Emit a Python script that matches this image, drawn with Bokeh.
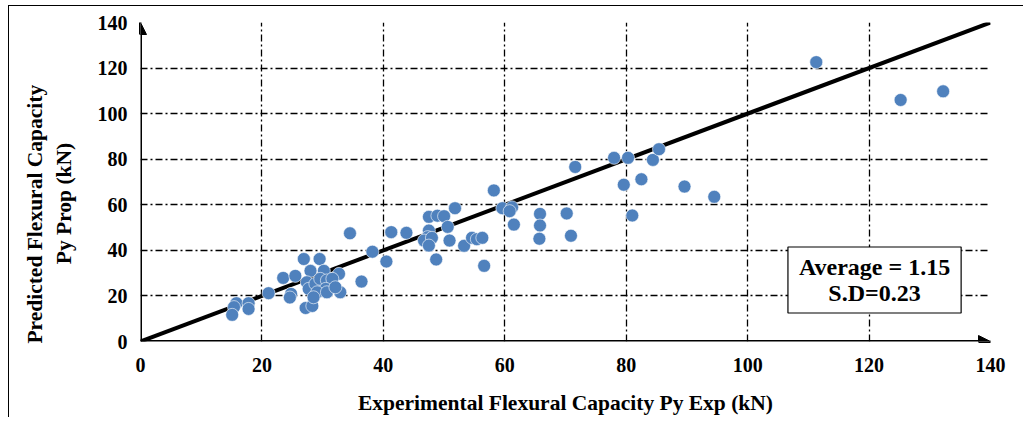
from bokeh.plotting import figure
from bokeh.models import Range1d, Label, Arrow, NormalHead, FixedTicker
from bokeh.embed import file_html
from bokeh.resources import INLINE

exp_vals = [111.3, 125.2, 132.2, 71.6, 78.0, 80.3, 84.4, 85.4, 79.6, 82.5, 89.6, 94.5, 81.0,
            70.2, 70.9, 58.2, 59.6, 61.2, 60.8, 61.5, 65.8, 65.8, 65.7, 38.2, 40.5, 41.3, 43.8,
            47.5, 48.9, 50.0, 51.8, 50.6, 47.5, 47.3, 46.7, 48.0, 47.5, 50.9, 48.7, 53.3, 54.6,
            55.4, 56.3, 56.6, 34.5, 36.4, 26.9, 29.5, 23.5, 25.5, 28.0, 30.2, 32.7, 21.1, 24.8,
            24.6, 32.9, 27.2, 28.3, 15.8, 17.8, 15.4, 17.8, 15.1, 27.4, 27.7, 28.8, 29.6, 30.7,
            31.6, 30.5, 29.1, 30.7, 32.1, 28.5]
pred_vals = [122.6, 106.0, 109.8, 76.6, 80.6, 80.6, 79.7, 84.4, 68.8, 71.2, 68.0, 63.5, 55.3,
             56.2, 46.4, 66.3, 58.5, 58.9, 57.2, 51.3, 56.0, 50.9, 45.1, 39.4, 35.1, 48.0, 47.7,
             54.7, 55.2, 55.0, 58.5, 50.3, 48.7, 45.8, 44.3, 45.5, 42.1, 44.3, 36.0, 42.0, 45.5,
             44.9, 45.5, 33.2, 47.5, 26.3, 36.2, 36.2, 27.9, 28.8, 31.0, 31.0, 29.7, 21.2, 20.9,
             19.3, 21.6, 14.7, 15.6, 16.8, 16.8, 15.1, 14.3, 11.7, 26.0, 23.1, 25.3, 27.5, 26.8,
             27.5, 23.1, 21.6, 21.6, 23.8, 19.4]
ticks = [0, 20, 40, 60, 80, 100, 120, 140]
line_x = [0, 140]
line_y = [0, 140]
stats_text = "Average = 1.15\nS.D=0.23"
x_title = "Experimental Flexural Capacity Py Exp (kN)"
y_title_1 = "Predicted Flexural Capacity"
y_title_2 = "Py Prop (kN)"

FONT = "Liberation Serif"
NBSP = "\u00a0"

p = figure(width=1015, height=412, output_backend="svg", toolbar_location=None,
           x_range=Range1d(0, 140), y_range=Range1d(0, 140),
           min_border_left=131, min_border_top=16, min_border_right=34, min_border_bottom=77)
p.styles = {"margin-left": "8px", "margin-top": "5px",
            "border-left": "1px solid black", "border-top": "1px solid black"}
p.outline_line_color = None

for ax in (p.xaxis, p.yaxis):
    ax.ticker = FixedTicker(ticks=ticks)
    ax.major_tick_line_color = None
    ax.minor_tick_line_color = None
    ax.axis_line_color = None
    ax.major_label_text_font = FONT
    ax.major_label_text_font_style = "bold"
    ax.major_label_text_font_size = "20px"
    ax.major_label_text_color = "black"
    ax.axis_label_text_font = FONT
    ax.axis_label_text_font_style = "bold"
    ax.axis_label_text_font_size = "21.5px"
    ax.axis_label_text_color = "black"

p.xaxis.axis_label = x_title
# trailing non-breaking spaces shift each rotated line downward, as in the original
p.yaxis.axis_label = y_title_1 + NBSP * 12 + "\n" + y_title_2 + NBSP * 8
p.xaxis.major_label_standoff = 10
p.yaxis.major_label_standoff = 7
p.xaxis.axis_label_standoff = 16
p.yaxis.axis_label_standoff = 19

for g in (p.xgrid, p.ygrid):
    g.grid_line_color = "black"
    g.grid_line_width = 1.3
    g.grid_line_dash = "7 3 2 3"

p.line(line_x, line_y, line_color="black", line_width=4)
p.scatter(exp_vals, pred_vals, size=13, fill_color="#4F81BD", line_color="white", line_width=0.6)

p.add_layout(Arrow(end=NormalHead(size=12, fill_color="black", line_color="black"),
                   x_start=0, y_start=0, x_end=0, y_end=140, line_width=3, line_color="black"))
p.add_layout(Arrow(end=NormalHead(size=12, fill_color="black", line_color="black"),
                   x_start=0, y_start=0, x_end=140, y_end=0, line_width=3, line_color="black"))

p.add_layout(Label(x=120.9, y=27.0, text=stats_text, text_align="center", text_baseline="middle",
                   text_font=FONT, text_font_style="bold", text_font_size="24px",
                   text_line_height=1.0, text_color="black",
                   border_line_color="black", border_line_width=1.2,
                   background_fill_color="white", padding=(11, 7)))

open("out.html", "w").write(file_html(p, INLINE))
